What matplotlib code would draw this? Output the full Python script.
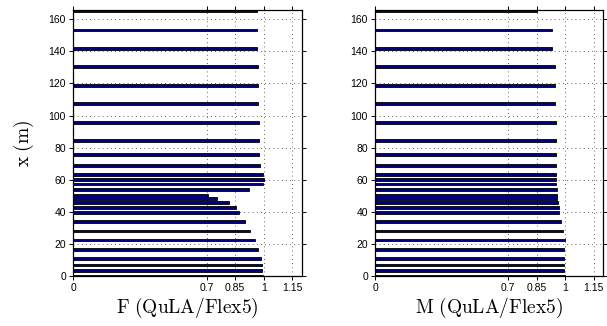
import matplotlib
matplotlib.use("Agg")
import matplotlib.pyplot as plt
import numpy as np

stations = [0.0, 3.7, 7.0, 10.8, 16.5, 22.6, 28.2, 34.0, 39.8, 42.7, 45.8, 48.5, 50.1,
            54.1, 57.4, 60.3, 63.4, 69.0, 75.9, 84.6, 95.9, 107.3, 118.8, 130.3,
            141.5, 153.2, 165.4]
f_ratio = [0.997, 0.993, 0.988, 0.983, 0.971, 0.956, 0.930, 0.902, 0.872, 0.853, 0.815,
           0.755, 0.709, 0.920, 0.998, 1.000, 0.998, 0.981, 0.977, 0.977, 0.976, 0.972,
           0.972, 0.969, 0.965, 0.962, 0.962]
m_ratio = [1.000, 0.992, 0.992, 0.992, 0.993, 0.998, 0.987, 0.977, 0.967, 0.965, 0.962,
           0.958, 0.955, 0.955, 0.953, 0.953, 0.953, 0.953, 0.951, 0.951, 0.950, 0.948,
           0.946, 0.944, 0.932, 0.930, 0.850]
xticks = [0, 0.7, 0.85, 1, 1.15]
xticklabels = ["0", "0.7", "0.85", "1", "1.15"]
yticks = [0, 20, 40, 60, 80, 100, 120, 140, 160]
xlabels = ["F (QuLA/Flex5)", "M (QuLA/Flex5)"]

plt.rcParams['mathtext.fontset'] = 'cm'
plt.rcParams['font.family'] = ['Liberation Sans', 'DejaVu Sans']

fig = plt.figure(figsize=(6.07, 3.26), dpi=100)
axes = [fig.add_axes([0.1203, 0.1525, 0.3772, 0.8155]),
        fig.add_axes([0.6178, 0.1525, 0.3762, 0.8155])]

for ax, vals, lab in zip(axes, [f_ratio, m_ratio], xlabels):
    ax.barh(stations, vals, height=1.8, color='#000080', edgecolor='black',
            linewidth=0.6, zorder=3)
    ax.set_xlim(0, 1.2)
    ax.set_ylim(0, 165.4)
    ax.set_xticks(xticks)
    ax.set_xticklabels(xticklabels)
    ax.set_yticks(yticks)
    ax.grid(True, linestyle=(0, (1, 4)), color='#333333', linewidth=0.6, zorder=0)
    ax.tick_params(direction='out', length=3, width=0.7, labelsize=7.5,
                   top=True, right=True, pad=2)
    for s in ax.spines.values():
        s.set_linewidth(0.9)
        s.set_zorder(4)
    ax.set_xlabel(r'$\mathrm{' + lab.replace(' ', r'\ ') + '}$', fontsize=14, labelpad=2)

axes[0].set_ylabel(r'$\mathrm{x\ (m)}$', fontsize=14, labelpad=9)

fig.savefig('out.png', dpi=100)
